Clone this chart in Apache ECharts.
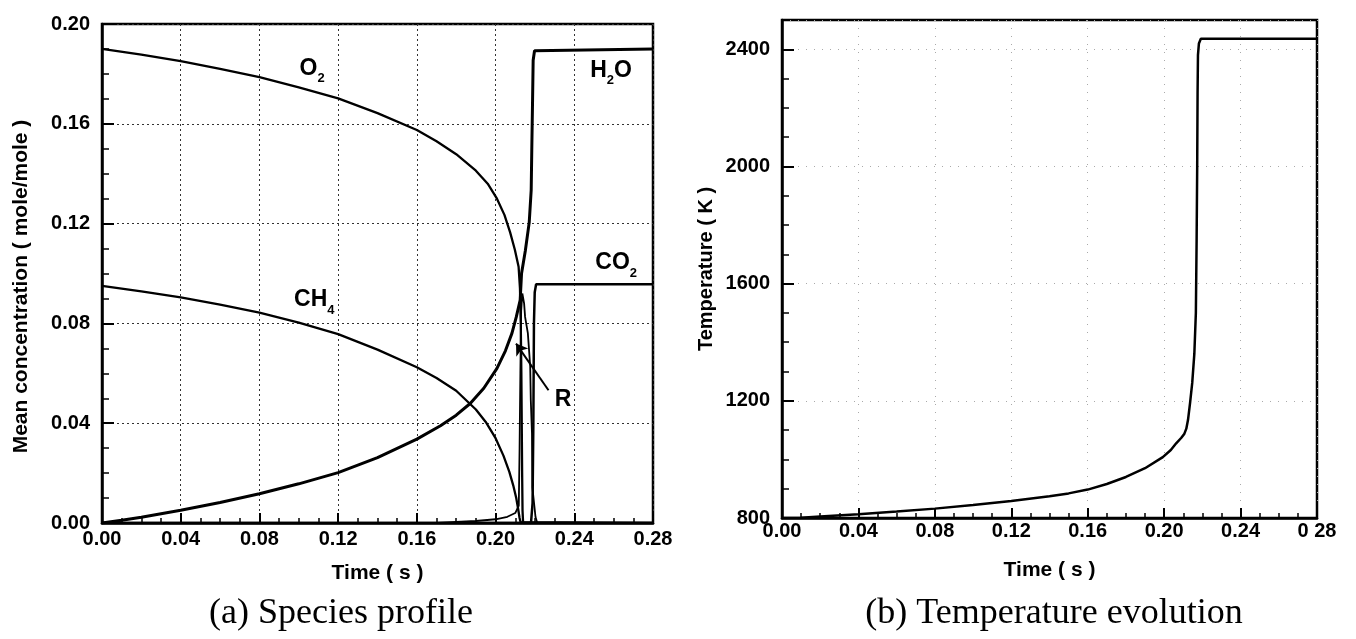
<!DOCTYPE html>
<html>
<head>
<meta charset="utf-8">
<script src="https://cdn.jsdelivr.net/npm/echarts@6/dist/echarts.min.js"></script>
<style>
html, body { margin: 0; padding: 0; background: #fff; }
#chart { width: 1356px; height: 639px; }
</style>
</head>
<body>
<div id="chart"></div>
<script>
// (a) species profile, [time (s), mole fraction]
const o2Data = [[0, 0.190], [0.02, 0.1877], [0.04, 0.1851], [0.06, 0.1820], [0.08, 0.1787], [0.10, 0.1746],
  [0.12, 0.1702], [0.14, 0.1643], [0.16, 0.1575], [0.17, 0.1530], [0.18, 0.1478], [0.19, 0.1412],
  [0.196, 0.1360], [0.2007, 0.1300], [0.2045, 0.1235], [0.2074, 0.1165], [0.2098, 0.1095], [0.2117, 0.1027],
  [0.2124, 0.0940], [0.2128, 0.080], [0.2131, 0.060], [0.2133, 0.040], [0.2135, 0.020], [0.2137, 0.005],
  [0.2140, 0], [0.28, 0]];
const ch4Data = [[0, 0.095], [0.02, 0.0928], [0.04, 0.0904], [0.06, 0.0875], [0.08, 0.0843], [0.10, 0.0803],
  [0.12, 0.0757], [0.14, 0.0695], [0.16, 0.0624], [0.17, 0.0581], [0.18, 0.0530], [0.19, 0.0455],
  [0.195, 0.0405], [0.200, 0.0340], [0.204, 0.0270], [0.207, 0.0205], [0.209, 0.0150], [0.2105, 0.0100],
  [0.2115, 0.0055], [0.2122, 0.0020], [0.2127, 0.0003], [0.2130, 0], [0.28, 0]];
const h2oData = [[0, 0], [0.01, 0.0011], [0.02, 0.0023], [0.04, 0.0051], [0.06, 0.0082], [0.08, 0.0117],
  [0.10, 0.0157], [0.12, 0.0202], [0.14, 0.0262], [0.16, 0.0336], [0.172, 0.0390], [0.18, 0.0432],
  [0.1871, 0.0479], [0.194, 0.0540], [0.2007, 0.0620], [0.2050, 0.0690], [0.2083, 0.0760], [0.2105, 0.0825],
  [0.2125, 0.0893], [0.2132, 0.100], [0.2151, 0.109], [0.2171, 0.1205], [0.2181, 0.1334], [0.2184, 0.1494],
  [0.2188, 0.1695], [0.2191, 0.1855], [0.2198, 0.1893], [0.2205, 0.190], [0.28, 0.190]];
const co2Data = [[0, 0], [0.2180, 0], [0.2188, 0.008], [0.2192, 0.040], [0.2195, 0.080], [0.2199, 0.0925],
  [0.2206, 0.0957], [0.28, 0.0957]];
const rData = [[0.17, 0], [0.19, 0.0008], [0.200, 0.0015], [0.206, 0.0025], [0.210, 0.0040], [0.2118, 0.0070],
  [0.2122, 0.030], [0.2126, 0.060], [0.2130, 0.085], [0.2136, 0.092], [0.2145, 0.088], [0.2150, 0.0826],
  [0.2164, 0.0761], [0.2176, 0.0628], [0.2179, 0.0492], [0.2185, 0.0360], [0.2187, 0.0143], [0.2203, 0.0024],
  [0.2212, 0], [0.28, 0]];

// (b) temperature evolution, [time (s), K]
const tempData = [[0, 800], [0.01, 801], [0.02, 805], [0.04, 813], [0.06, 822], [0.08, 832], [0.10, 844],
  [0.12, 858], [0.14, 874], [0.15, 884], [0.16, 897], [0.17, 916], [0.18, 940], [0.19, 970], [0.1993, 1008],
  [0.2035, 1032], [0.2063, 1055], [0.209, 1074], [0.2106, 1088], [0.2116, 1105], [0.2125, 1135],
  [0.2136, 1195], [0.2147, 1261], [0.2158, 1360], [0.2166, 1500], [0.2170, 1750], [0.2173, 2000],
  [0.2175, 2250], [0.2177, 2380], [0.2182, 2420], [0.2192, 2436], [0.28, 2436]];

// tick labels
const timeLabelsA = ['0.00', '0.04', '0.08', '0.12', '0.16', '0.20', '0.24', '0.28'];
const timeLabelsB = ['0.00', '0.04', '0.08', '0.12', '0.16', '0.20', '0.24', '0 28'];
const concLabels = ['0.00', '0.04', '0.08', '0.12', '0.16', '0.20'];
const tempLabels = ['800', '1200', '1600', '2000', '2400'];

const sans = '"Liberation Sans", Arial, sans-serif';
const serif = '"Liberation Serif", "Times New Roman", serif';

const chart = echarts.init(document.getElementById('chart'));

const labelFont = { color: '#000', fontSize: 20, fontWeight: 'bold', fontFamily: sans };

const rich = {
  n: { fontSize: 23, fontWeight: 'bold', fontFamily: sans, color: '#000', verticalAlign: 'middle' },
  s: { fontSize: 13, fontWeight: 'bold', fontFamily: sans, color: '#000', verticalAlign: 'middle', padding: [21, 0, 0, 0] }
};

function timeAxis(gridIndex, labels, opts) {
  return Object.assign({
    type: 'value',
    gridIndex: gridIndex,
    min: 0,
    max: 0.28,
    interval: 0.04,
    name: 'Time ( s )',
    nameLocation: 'middle',
    nameMoveOverlap: false,
    nameTextStyle: { color: '#000', fontSize: 21, fontWeight: 'bold', fontFamily: sans },
    axisLine: { lineStyle: { color: '#000', width: 2.5 } },
    axisTick: { inside: true, length: 10, lineStyle: { color: '#000', width: 2 } },
    minorTick: { show: true, splitNumber: 4, length: 5, lineStyle: { color: '#000', width: 1.5 } },
    axisLabel: Object.assign({}, labelFont, {
      formatter: function (v) { return labels[Math.round(v / 0.04)]; }
    })
  }, opts);
}

// species text + arrow marks
function speciesMark(text, coord) {
  return {
    silent: true, symbol: 'circle', symbolSize: 1, itemStyle: { color: 'rgba(0,0,0,0)' },
    label: { show: true, position: 'inside', rich: rich, formatter: text },
    data: [{ coord: coord }]
  };
}

chart.setOption({
  animation: false,
  backgroundColor: '#fff',
  grid: [
    { left: 102, top: 24, right: 703, bottom: 116, show: true, borderColor: '#000', borderWidth: 2.5, outerBoundsMode: 'none' },
    { left: 782, top: 20, right: 39, bottom: 121, show: true, borderColor: '#000', borderWidth: 2.5, outerBoundsMode: 'none' }
  ],
  xAxis: [
    timeAxis(0, timeLabelsA, {
      nameGap: 40,
      axisLabel: Object.assign({}, labelFont, { margin: 6, formatter: function (v) { return timeLabelsA[Math.round(v / 0.04)]; } }),
      splitLine: { show: true, lineStyle: { color: '#333', width: 1, type: [2, 3] } }
    }),
    timeAxis(1, timeLabelsB, {
      nameGap: 42,
      axisLabel: Object.assign({}, labelFont, { margin: 3, formatter: function (v) { return timeLabelsB[Math.round(v / 0.04)]; } }),
      splitLine: { show: true, lineStyle: { color: '#aaa', width: 1, type: [1, 7] } }
    })
  ],
  yAxis: [
    {
      type: 'value', gridIndex: 0, min: 0, max: 0.2, interval: 0.04,
      name: 'Mean concentration ( mole/mole )', nameLocation: 'middle', nameGap: 70, nameMoveOverlap: false,
      nameTextStyle: { color: '#000', fontSize: 21, fontWeight: 'bold', fontFamily: sans, padding: [0, 26, 0, 0] },
      axisLine: { show: true, lineStyle: { color: '#000', width: 2.5 } },
      axisTick: { show: true, inside: true, length: 12, lineStyle: { color: '#000', width: 2 } },
      minorTick: { show: true, splitNumber: 4, length: 7, lineStyle: { color: '#000', width: 1.5 } },
      axisLabel: Object.assign({}, labelFont, { margin: 12, formatter: function (v) { return concLabels[Math.round(v / 0.04)]; } }),
      splitLine: { show: true, lineStyle: { color: '#333', width: 1, type: [2, 3] } }
    },
    {
      type: 'value', gridIndex: 1, min: 800, max: 2500, interval: 400,
      name: 'Temperature ( K )', nameLocation: 'middle', nameGap: 66, nameMoveOverlap: false,
      nameTextStyle: { color: '#000', fontSize: 20, fontWeight: 'bold', fontFamily: sans },
      axisLine: { show: true, lineStyle: { color: '#000', width: 2.5 } },
      axisTick: { show: true, inside: true, length: 12, lineStyle: { color: '#000', width: 2 } },
      axisLabel: Object.assign({}, labelFont, {
        margin: 12, showMaxLabel: false,
        formatter: function (v) { return tempLabels[Math.round((v - 800) / 400)] || ''; }
      }),
      splitLine: { show: true, lineStyle: { color: '#aaa', width: 1, type: [1, 7] } }
    },
    {
      // minor ticks for the temperature axis
      type: 'value', gridIndex: 1, min: 800, max: 2500, interval: 100, position: 'left',
      axisLine: { show: false },
      axisTick: { show: true, inside: true, length: 7, lineStyle: { color: '#000', width: 1.5 } },
      axisLabel: { show: false },
      splitLine: { show: false }
    }
  ],
  series: [
    {
      name: 'O2', type: 'line', xAxisIndex: 0, yAxisIndex: 0, data: o2Data,
      showSymbol: false, lineStyle: { color: '#000', width: 2.3 },
      markPoint: speciesMark('{n|O}{s|2}', [0.1068, 0.1823])
    },
    {
      name: 'CH4', type: 'line', xAxisIndex: 0, yAxisIndex: 0, data: ch4Data,
      showSymbol: false, lineStyle: { color: '#000', width: 2.3 },
      markPoint: speciesMark('{n|CH}{s|4}', [0.1079, 0.0896])
    },
    {
      name: 'R', type: 'line', xAxisIndex: 0, yAxisIndex: 0, data: rData,
      showSymbol: false, lineStyle: { color: '#000', width: 1.8 },
      markPoint: speciesMark('{n|R}', [0.2343, 0.0496]),
      markLine: {
        silent: true, symbol: ['none', 'arrow'], symbolSize: 11,
        lineStyle: { color: '#000', width: 2, type: 'solid' },
        label: { show: false },
        data: [[{ coord: [0.2269, 0.0532] }, { coord: [0.2104, 0.0719] }]]
      }
    },
    {
      name: 'H2O', type: 'line', xAxisIndex: 0, yAxisIndex: 0, data: h2oData,
      showSymbol: false, lineStyle: { color: '#000', width: 3 },
      markPoint: speciesMark('{n|H}{s|2}{n|O}', [0.2587, 0.1815])
    },
    {
      name: 'CO2', type: 'line', xAxisIndex: 0, yAxisIndex: 0, data: co2Data,
      showSymbol: false, lineStyle: { color: '#000', width: 2.5 },
      markPoint: speciesMark('{n|CO}{s|2}', [0.2613, 0.1043])
    },
    {
      name: 'Temperature', type: 'line', xAxisIndex: 1, yAxisIndex: 1, data: tempData,
      showSymbol: false, lineStyle: { color: '#000', width: 2.5 }
    }
  ],
  graphic: [
    {
      type: 'text', x: 341, y: 614, silent: true,
      style: { text: '(a) Species profile', font: '36px ' + serif, fill: '#000',
        align: 'center', verticalAlign: 'middle', textAlign: 'center', textVerticalAlign: 'middle' }
    },
    {
      type: 'text', x: 1054, y: 614, silent: true,
      style: { text: '(b) Temperature evolution', font: '36px ' + serif, fill: '#000',
        align: 'center', verticalAlign: 'middle', textAlign: 'center', textVerticalAlign: 'middle' }
    }
  ]
});
</script>
</body>
</html>
